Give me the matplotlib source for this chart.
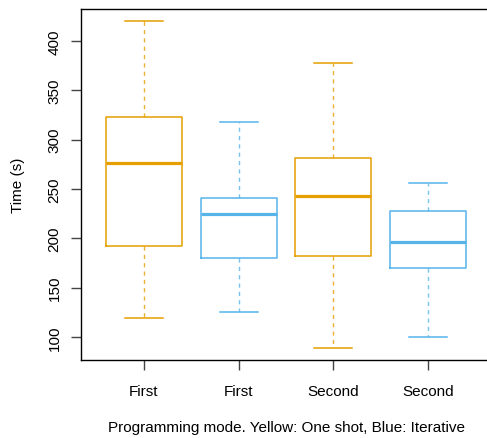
import matplotlib
matplotlib.use('Agg')
import matplotlib.pyplot as plt

# box statistics (seconds)
labels = ['First', 'First', 'Second', 'Second']
colors = ['#E69F00', '#56B4E9', '#E69F00', '#56B4E9']
whis_low = [119, 125, 89, 100]
q1 = [192, 180, 182, 170]
medians = [276, 225, 243, 196]
q3 = [323, 241, 281, 228]
whis_high = [420, 318, 378, 256]

plt.rcParams['font.family'] = ['Liberation Sans', 'DejaVu Sans']

fig = plt.figure(figsize=(4.87, 4.39), dpi=100)
ax = fig.add_axes([81 / 487, 78 / 439, 410 / 487, 351 / 439])

stats = []
for i in range(len(labels)):
    stats.append({'med': medians[i], 'q1': q1[i], 'q3': q3[i],
                  'whislo': whis_low[i], 'whishi': whis_high[i],
                  'fliers': [], 'label': labels[i]})

for i, s in enumerate(stats):
    c = colors[i]
    ax.bxp([s], positions=[i + 1], widths=0.8, showfliers=False,
           boxprops=dict(color=c, linewidth=1.1),
           medianprops=dict(color=c, linewidth=2.3, solid_capstyle='butt'),
           whiskerprops=dict(color=c, linewidth=1.0, linestyle=(0, (3, 3)), alpha=0.8),
           capprops=dict(color=c, linewidth=1.1),
           capwidths=0.4)

ax.set_xlim(0.335, 4.665)
ax.set_ylim(76.5, 432.5)
ax.set_xticks([1, 2, 3, 4])
ax.set_xticklabels(labels)
ax.set_yticks([100, 150, 200, 250, 300, 350, 400])
ax.tick_params(axis='both', direction='out', length=7, width=1, color='#444444',
               labelsize=11)
ax.tick_params(axis='x', pad=10)
ax.tick_params(axis='y', labelrotation=90, pad=7)
for lab in ax.get_yticklabels():
    lab.set_verticalalignment('center')

for sp in ax.spines.values():
    sp.set_linewidth(1.0)
ax.spines['right'].set_visible(False)

ax.set_ylabel('Time (s)', fontsize=11, labelpad=16)
ax.set_xlabel('Programming mode. Yellow: One shot, Blue: Iterative', fontsize=11, labelpad=16)

fig.savefig('out.png', dpi=100)
